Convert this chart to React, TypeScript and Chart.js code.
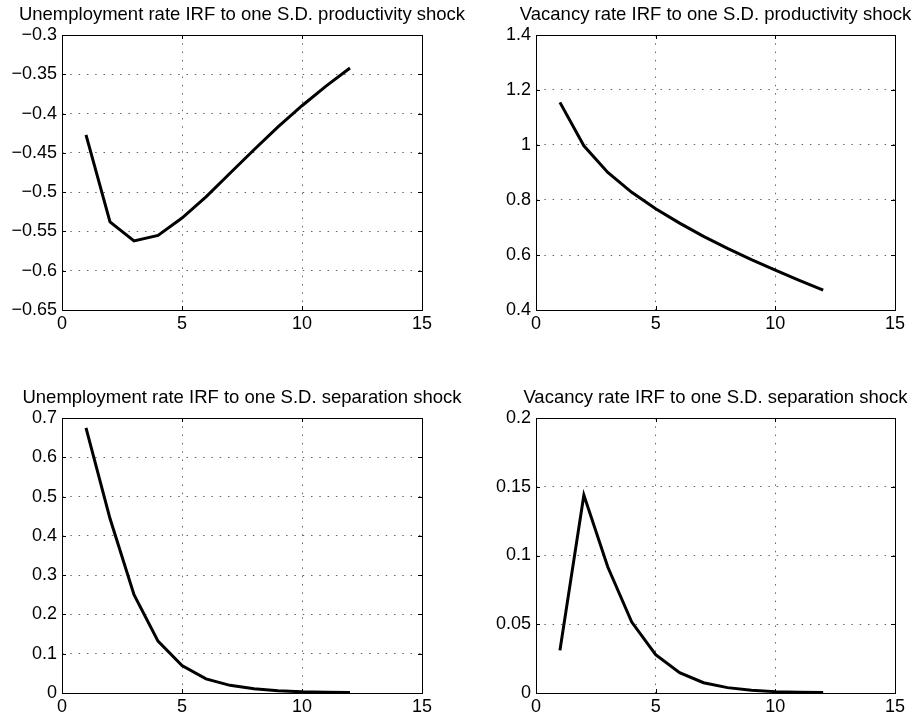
import React, { useEffect, useRef } from "react";
import { Chart, registerables } from "chart.js";

Chart.register(...registerables);

// ---------- data ----------
const periods = [1, 2, 3, 4, 5, 6, 7, 8, 9, 10, 11, 12];

const unempProd = [-0.427, -0.538, -0.562, -0.555, -0.533, -0.506, -0.476, -0.446, -0.417, -0.39, -0.365, -0.342];
const vacProd = [1.155, 0.997, 0.9, 0.828, 0.768, 0.716, 0.668, 0.624, 0.583, 0.545, 0.508, 0.472];
const unempSep = [0.675, 0.444, 0.25, 0.132, 0.07, 0.036, 0.0195, 0.011, 0.006, 0.003, 0.0018, 0.001];
const vacSep = [0.031, 0.144, 0.0916, 0.0516, 0.0279, 0.0148, 0.0075, 0.0039, 0.002, 0.001, 0.0005, 0.0003];

const xTicks = [0, 5, 10, 15];
const yTicksUnempProd = [-0.65, -0.6, -0.55, -0.5, -0.45, -0.4, -0.35, -0.3];
const yTicksVacProd = [0.4, 0.6, 0.8, 1, 1.2, 1.4];
const yTicksUnempSep = [0, 0.1, 0.2, 0.3, 0.4, 0.5, 0.6, 0.7];
const yTicksVacSep = [0, 0.05, 0.1, 0.15, 0.2];

const titles = [
  "Unemployment rate IRF to one S.D. productivity shock",
  "Vacancy rate IRF to one S.D. productivity shock",
  "Unemployment rate IRF to one S.D. separation shock",
  "Vacancy rate IRF to one S.D. separation shock",
];

const FONT = '"Liberation Sans", Arial, Helvetica, sans-serif';

const fmt = (v: number) => {
  const s = String(Math.round(v * 1000) / 1000);
  return s.replace("-", "\u2212");
};

const framePlugin = {
  id: "frame",
  afterDraw(chart: any) {
    const { ctx, chartArea } = chart;
    const { left, right, top, bottom } = chartArea;
    ctx.save();
    ctx.setLineDash([]);
    ctx.strokeStyle = "#000";
    ctx.lineWidth = 1;
    ctx.strokeRect(Math.round(left) + 0.5, Math.round(top) + 0.5, Math.round(right - left), Math.round(bottom - top));
    // inward tick marks
    const tl = 4;
    const xs = chart.scales.x;
    const ys = chart.scales.y;
    ctx.beginPath();
    xs.ticks.forEach((t: any) => {
      const px = Math.round(xs.getPixelForValue(t.value)) + 0.5;
      ctx.moveTo(px, bottom);
      ctx.lineTo(px, bottom - tl);
      ctx.moveTo(px, top);
      ctx.lineTo(px, top + tl);
    });
    ys.ticks.forEach((t: any) => {
      const py = Math.round(ys.getPixelForValue(t.value)) + 0.5;
      ctx.moveTo(left, py);
      ctx.lineTo(left + tl, py);
      ctx.moveTo(right, py);
      ctx.lineTo(right - tl, py);
    });
    ctx.stroke();
    // title
    const title = chart.options.plugins.panelTitle?.text;
    if (title) {
      ctx.fillStyle = "#000";
      ctx.font = `18.5px ${FONT}`;
      ctx.textAlign = "center";
      ctx.textBaseline = "alphabetic";
      ctx.fillText(title, (left + right) / 2, top - 15.5);
    }
    ctx.restore();
  },
};

type PanelProps = {
  left: number;
  top: number;
  width: number;
  height: number;
  yWidth: number;
  padRight: number;
  values: number[];
  yTicks: number[];
  title: string;
};

function Panel(p: PanelProps) {
  const ref = useRef<HTMLCanvasElement | null>(null);
  useEffect(() => {
    if (!ref.current) return;
    const gridColor = "rgba(0,0,0,0.6)";
    const chart = new Chart(ref.current, {
      type: "line",
      data: {
        datasets: [
          {
            data: periods.map((x, i) => ({ x, y: p.values[i] })),
            borderColor: "#000",
            borderWidth: 3,
            pointRadius: 0,
            tension: 0,
            fill: false,
          },
        ],
      },
      options: {
        responsive: false,
        animation: false,
        devicePixelRatio: 1,
        layout: { padding: { top: 35, right: p.padRight, left: 0, bottom: 0 } },
        plugins: {
          legend: { display: false },
          tooltip: { enabled: false },
          // @ts-ignore
          panelTitle: { text: p.title },
        },
        scales: {
          x: {
            type: "linear",
            min: xTicks[0],
            max: xTicks[xTicks.length - 1],
            afterBuildTicks: (s: any) => {
              s.ticks = xTicks.map((v) => ({ value: v }));
            },
            afterFit: (s: any) => {
              s.height = 28;
            },
            ticks: {
              color: "#000",
              font: { family: FONT, size: 18 },
              padding: 3,
              maxRotation: 0,
              autoSkip: false,
              callback: (v: any) => fmt(Number(v)),
            },
            grid: { drawTicks: false, color: gridColor, lineWidth: 1 },
            border: { display: false, dash: [1.5, 6.8] },
          },
          y: {
            type: "linear",
            min: p.yTicks[0],
            max: p.yTicks[p.yTicks.length - 1],
            afterBuildTicks: (s: any) => {
              s.ticks = p.yTicks.map((v) => ({ value: v }));
            },
            afterFit: (s: any) => {
              s.width = p.yWidth;
            },
            ticks: {
              color: "#000",
              font: { family: FONT, size: 18 },
              padding: 5,
              autoSkip: false,
              callback: (v: any) => fmt(Number(v)),
            },
            grid: { drawTicks: false, color: gridColor, lineWidth: 1 },
            border: { display: false, dash: [1.5, 6.8] },
          },
        },
      },
      plugins: [framePlugin],
    } as any);
    return () => chart.destroy();
  }, []);
  return (
    <canvas
      ref={ref}
      width={p.width}
      height={p.height}
      style={{ position: "absolute", left: p.left, top: p.top, width: p.width, height: p.height }}
    />
  );
}

export default function App() {
  return (
    <div
      style={{
        position: "absolute",
        left: 0,
        top: 0,
        width: 919,
        height: 721,
        overflow: "hidden",
        background: "#fff",
      }}
    >
      <Panel left={0} top={0} width={500} height={338} yWidth={62} padRight={78} values={unempProd} yTicks={yTicksUnempProd} title={titles[0]} />
      <Panel left={460} top={0} width={459} height={338} yWidth={76} padRight={24} values={vacProd} yTicks={yTicksVacProd} title={titles[1]} />
      <Panel left={0} top={383} width={500} height={338} yWidth={62} padRight={78} values={unempSep} yTicks={yTicksUnempSep} title={titles[2]} />
      <Panel left={460} top={383} width={459} height={338} yWidth={76} padRight={24} values={vacSep} yTicks={yTicksVacSep} title={titles[3]} />
    </div>
  );
}
